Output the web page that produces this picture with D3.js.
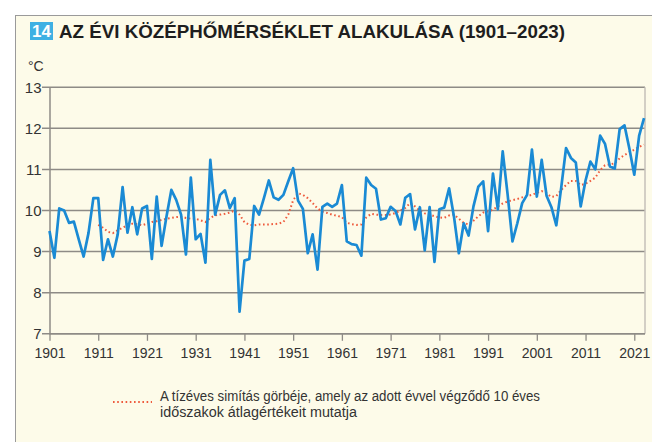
<!DOCTYPE html>
<html>
<head>
<meta charset="utf-8">
<script src="https://cdn.jsdelivr.net/npm/d3@7"></script>
<style>
body { margin: 0; background: #fff; }
svg { display: block; }
text { font-family: "Liberation Sans Narrow", "Liberation Sans", Arial, sans-serif; }
</style>
</head>
<body>
<div id="chart"></div>
<script>
// evi kozephomerseklet (1901-2023), leolvasva
var firstYear = 1901;
var lastYear = 2023;

var yearly = [
	9.5, 8.85, 10.05, 10.0, 9.7, 9.73, 9.3, 8.88, 9.45, 10.3,
	10.3, 8.8, 9.3, 8.88, 9.42, 10.57, 9.46, 10.08, 9.42, 10.05,
	10.11, 8.82, 10.34, 9.14, 9.85, 10.5, 10.26, 9.9, 8.93, 10.8,
	9.3, 9.43, 8.73, 11.23, 9.9, 10.38, 10.49, 10.06, 10.3, 7.54,
	8.78, 8.82, 10.11, 9.9, 10.3, 10.73, 10.32, 10.26, 10.38, 10.71,
	11.03, 10.24, 10.04, 8.96, 9.42, 8.56, 10.09, 10.17, 10.09, 10.17,
	10.62, 9.25, 9.18, 9.16, 8.9, 10.8, 10.62, 10.53, 9.78, 9.81,
	10.09, 9.99, 9.66, 10.31, 10.4, 9.54, 10.08, 9.03, 10.08, 8.75,
	10.03, 10.07, 10.54, 9.85, 8.96, 9.69, 9.39, 10.1, 10.58, 10.71,
	9.5, 10.9, 10.03, 11.44, 10.4, 9.25, 9.69, 10.18, 10.38, 11.48,
	10.34, 11.23, 10.36, 10.08, 9.64, 10.55, 11.52, 11.28, 11.17, 10.1,
	10.73, 11.19, 11.0, 11.82, 11.62, 11.07, 11.02, 11.98, 12.07, 11.5,
	10.87, 11.82, 12.25
];

// tizeves simitas, 1911-tol
var smoothStart = 1911;
var smoothed = [
	9.65, 9.58, 9.48, 9.45, 9.52, 9.58, 9.64, 9.68, 9.67, 9.64,
	9.68, 9.72, 9.74, 9.77, 9.8, 9.82, 9.84, 9.85, 9.82, 9.8,
	9.8, 9.76, 9.72, 9.82, 9.88, 9.9, 9.92, 9.95, 10.0, 9.9,
	9.72, 9.65, 9.64, 9.66, 9.66, 9.66, 9.67, 9.68, 9.72, 9.9,
	10.25, 10.42, 10.38, 10.3, 10.18, 10.05, 9.97, 9.94, 9.9, 9.87,
	9.84, 9.7, 9.67, 9.65, 9.66, 9.83, 9.92, 9.9, 9.89, 9.89,
	9.9, 9.94, 10.0, 10.06, 10.18, 10.1, 10.0, 9.93, 9.9, 9.86,
	9.83, 9.82, 9.88, 9.9, 9.8, 9.7, 9.66, 9.75, 9.86, 9.95,
	9.98, 10.02, 10.1, 10.17, 10.22, 10.25, 10.28, 10.32, 10.35, 10.38,
	10.43, 10.47, 10.42, 10.33, 10.35, 10.5, 10.62, 10.72, 10.72, 10.62,
	10.65, 10.72, 10.8, 10.98, 11.1, 11.12, 11.15, 11.27, 11.35, 11.42,
	11.48, 11.55, 11.6
];

var yTicks = [7, 8, 9, 10, 11, 12, 13];
var xTicks = [1901, 1911, 1921, 1931, 1941, 1951, 1961, 1971, 1981, 1991, 2001, 2011, 2021];

var titleText = "AZ ÉVI KÖZÉPHŐMÉRSÉKLET ALAKULÁSA (1901–2023)";
var legendLines = ["A tízéves simítás görbéje, amely az adott évvel végződő 10 éves", "időszakok átlagértékeit mutatja"];
var legendWidths = [380, 197];

var w = 652;
var h = 442;
var cream = "#fdfbe9";
var gridColor = "#8e8b86";

var years = d3.range(firstYear, lastYear + 1);
var yearlyData = years.map(function (y, i) {return [y, yearly[i]];});
var smoothData = smoothed.map(function (v, i) {return [smoothStart + i, v];});

var xScale = d3.scaleLinear().domain([1901, 2023.2]).range([49.5, 645]);
var yScale = d3.scaleLinear().domain([7, 13]).range([333.8, 87.2]);

var svg = d3.
select("#chart").
append("svg").
attr("width", w).
attr("height", h);

// hatter panel
svg.
append("rect").
attr("x", 15.5).
attr("y", 15.5).
attr("width", w).
attr("height", h).
attr("fill", cream).
attr("stroke", "#9a9a9a").
attr("stroke-width", 1);

// cim
svg.
append("rect").
attr("x", 30).
attr("y", 22).
attr("width", 23).
attr("height", 18).
attr("fill", "#3fb0e3");

svg.
append("text").
attr("x", 41.5).
attr("y", 37).
attr("text-anchor", "middle").
attr("fill", "#fff").
attr("font-weight", "bold").
attr("font-size", "17px").
text("14");

svg.
append("text").
attr("x", 59).
attr("y", 38).
attr("fill", "#1e1e1e").
attr("font-weight", "bold").
attr("font-size", "19px").
attr("textLength", 506).
attr("lengthAdjust", "spacingAndGlyphs").
text(titleText);

svg.
append("text").
attr("x", 28).
attr("y", 71).
attr("fill", "#333").
attr("font-size", "14px").
text("°C");

// racsvonalak
svg.
append("g").
selectAll("line").
data(yTicks).
enter().
append("line").
attr("x1", 42).
attr("x2", 645).
attr("y1", function (d) {return yScale(d);}).
attr("y2", function (d) {return yScale(d);}).
attr("stroke", gridColor).
attr("stroke-width", 1.5);

// jobb szel
svg.
append("line").
attr("x1", 645).
attr("x2", 645).
attr("y1", yScale(13)).
attr("y2", yScale(7)).
attr("stroke", "#c4c1b8").
attr("stroke-width", 1.5);

var yAxis = d3.axisLeft(yScale).tickValues(yTicks).tickSize(0).tickPadding(10).tickFormat(d3.format("d"));

var gy = svg.
append("g").
attr("transform", "translate(49.5,0)").
call(yAxis);

gy.select(".domain").
attr("stroke", gridColor).
attr("stroke-width", 1.5);

gy.selectAll("text").
attr("font-size", "15px").
attr("fill", "#333").
attr("dx", "2");

var xAxis = d3.axisBottom(xScale).tickValues(xTicks).tickSize(7).tickPadding(7).tickFormat(d3.format("d"));

var gx = svg.
append("g").
attr("transform", "translate(0," + yScale(7) + ")").
call(xAxis);

gx.select(".domain").
attr("d", "M49.5,0H645").
attr("stroke", gridColor).
attr("stroke-width", 1.5);

gx.selectAll(".tick line").
attr("stroke", gridColor).
attr("stroke-width", 1.3);

gx.selectAll("text").
attr("font-size", "14px").
attr("fill", "#333");

// vonalak
var line = d3.line().
x(function (d) {return xScale(d[0]);}).
y(function (d) {return yScale(d[1]);});

svg.
append("path").
datum(smoothData).
attr("d", line).
attr("fill", "none").
attr("stroke", "#ee5a3c").
attr("stroke-width", 2).
attr("stroke-dasharray", "1.6,2.6");

svg.
append("path").
datum(yearlyData).
attr("d", line).
attr("fill", "none").
attr("stroke", "#1a8ad4").
attr("stroke-width", 2.7).
attr("stroke-linejoin", "round");

// jelmagyarazat
svg.
append("line").
attr("x1", 113).
attr("x2", 152).
attr("y1", 402).
attr("y2", 402).
attr("stroke", "#ee5a3c").
attr("stroke-width", 2).
attr("stroke-dasharray", "1.6,2.6");

svg.
append("g").
selectAll("text").
data(legendLines).
enter().
append("text").
attr("x", 160).
attr("y", function (d, i) {return 401 + i * 16;}).
attr("fill", "#333").
attr("font-size", "14px").
attr("textLength", function (d, i) {return legendWidths[i];}).
attr("lengthAdjust", "spacingAndGlyphs").
text(function (d) {return d;});
</script>
</body>
</html>
